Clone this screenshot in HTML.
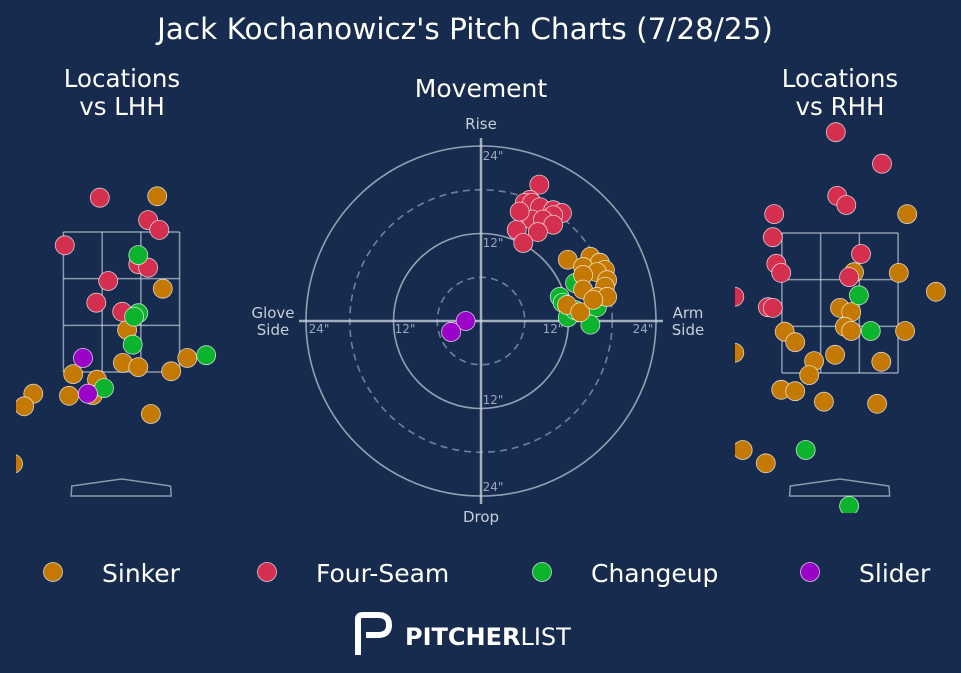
<!DOCTYPE html>
<html><head><meta charset="utf-8"><style>
html,body{margin:0;padding:0;background:#162b4d;}
svg{display:block;font-family:"DejaVu Sans","Liberation Sans",sans-serif;}
</style></head><body>
<svg id="c" width="961" height="673" viewBox="0 0 961 673">
<rect width="961" height="673" fill="#162b4d"/>
<defs>
<clipPath id="clipL"><rect x="16" y="110" width="230" height="410"/></clipPath>
<clipPath id="clipR"><rect x="735" y="110" width="226" height="403"/></clipPath>
</defs>
<text x="465" y="39" font-size="29.5" fill="#fff" text-anchor="middle">Jack Kochanowicz's Pitch Charts (7/28/25)</text>
<text x="122" y="87" font-size="24.5" fill="#fff" text-anchor="middle"><tspan x="122">Locations</tspan><tspan x="122" dy="28">vs LHH</tspan></text>
<text x="481" y="97" font-size="25" fill="#fff" text-anchor="middle">Movement</text>
<text x="840" y="87" font-size="24.5" fill="#fff" text-anchor="middle"><tspan x="840">Locations</tspan><tspan x="840" dy="28">vs RHH</tspan></text>
<g id="gL"></g>
<g id="gM"></g>
<g id="gR"></g>
<g id="legend"></g>
<g>
<path d="M358 655 V619 Q358 615 363 615 H378 Q389 615 389 625 Q389 635 378 635 H366" fill="none" stroke="#fff" stroke-width="6"/>
<text x="405" y="645" font-size="24" fill="#fff" font-weight="bold">PITCHER<tspan font-weight="normal">LIST</tspan></text>
</g>
</svg>
<script>
const pitchTypes=["Sinker","Four-Seam","Changeup","Slider"];
const colors={"Sinker":"#c47a02","Four-Seam":"#d42f4e","Changeup":"#0bb42c","Slider":"#9b03c8"};
// Locations vs LHH (plate_x ft, plate_z ft)
const lhhSinkerX=[0.51,0.59,0.08,0.02,0.24,-0.69,-0.35,-0.75,-0.41,-1.26,-1.39,0.71,0.94,0.42,-1.55];
const lhhSinkerZ=[4.01,2.69,2.10,1.63,1.57,1.47,1.39,1.16,1.17,1.19,1.01,1.51,1.70,0.90,0.19];
const lhhFourX=[-0.31,0.38,0.54,-0.81,0.24,0.38,-0.19,-0.36,0.01];
const lhhFourZ=[3.99,3.67,3.53,3.31,3.04,2.99,2.80,2.49,2.36];
const lhhChangeX=[0.24,0.24,0.18,0.16,1.21,-0.25];
const lhhChangeZ=[3.17,2.34,2.29,1.89,1.74,1.27];
const lhhSliderX=[-0.55,-0.48];
const lhhSliderZ=[1.70,1.19];
// Locations vs RHH
const rhhSinkerX=[0.96,0.20,0.84,1.37,0.00,0.16,0.07,0.16,0.93,-0.79,-0.64,-1.51,-0.37,-0.07,0.59,-0.44,-0.84,-0.64,-0.23,0.53,-1.39,-1.06];
const rhhSinkerZ=[3.77,2.94,2.93,2.66,2.43,2.37,2.16,2.10,2.10,2.09,1.94,1.79,1.67,1.76,1.66,1.47,1.26,1.24,1.09,1.06,0.40,0.21];
const rhhFourX=[-0.06,0.60,-0.04,0.09,-0.94,-0.96,0.30,-0.91,-0.84,0.13,-1.51,-1.03,-0.96];
const rhhFourZ=[4.94,4.49,4.03,3.90,3.77,3.44,3.20,3.06,2.93,2.87,2.59,2.44,2.43];
const rhhChangeX=[0.27,0.44,-0.49,0.13];
const rhhChangeZ=[2.61,2.10,0.40,-0.40];
const rhhSliderX=[];
const rhhSliderZ=[];
// Movement (horizontal break in, induced vertical break in)
const mvSinkerH=[11.9,15.0,16.3,17.0,14.0,15.9,14.0,17.3,17.0,14.0,15.9,17.3,11.8,13.6,15.4];
const mvSinkerV=[8.4,8.8,8.0,7.0,7.4,6.7,6.3,5.6,4.7,4.3,3.3,3.3,2.2,1.2,2.9];
const mvFourH=[8.0,6.7,6.0,7.0,8.1,9.9,11.1,9.9,7.0,8.5,9.9,4.9,7.8,5.8,5.3];
const mvFourV=[18.7,16.6,16.2,16.2,15.6,15.2,14.8,14.5,13.9,13.9,13.2,12.5,12.2,10.7,15.0];
const mvChangeH=[10.8,12.9,11.2,11.9,12.9,15.9,15.0];
const mvChangeV=[3.3,5.2,2.5,0.5,1.5,1.9,-0.5];
const mvSliderH=[-2.1,-4.1];
const mvSliderV=[0,-1.5];

const NS="http://www.w3.org/2000/svg";
function mk(tag,attrs,parent){const e=document.createElementNS(NS,tag);for(const k in attrs)e.setAttribute(k,attrs[k]);parent.appendChild(e);return e;}
const GRID="rgba(220,225,235,0.6)";
function locPanel(g,cx,yBot,clip,sets,side){
  const sx=v=>cx+v*70, sy=v=>yBot-(v-1.5)*70;
  const zone=mk('g',{},g);
  
  
  for(let i=0;i<4;i++){const x=sx(-0.83+i*1.66/3);mk('line',{x1:x,x2:x,y1:sy(3.5),y2:sy(1.5),stroke:GRID,'stroke-width':1.5},zone);}
  for(let i=0;i<4;i++){const y=sy(1.5+i*2/3);mk('line',{x1:sx(-0.83),x2:sx(0.83),y1:y,y2:y,stroke:GRID,'stroke-width':1.5},zone);}
  const plate=mk('polygon',{points:[[sx(-0.71),486],[cx,479],[sx(0.7),486],[sx(0.71),496],[sx(-0.72),496]].map(p=>p.join(',')).join(' '),fill:'none',stroke:GRID,'stroke-width':1.5},g);
  
  
  const pts=mk('g',{'clip-path':'url(#'+clip+')'},g);
  sets.forEach(([type,xs,zs])=>{xs.forEach((v,i)=>{
    const c=mk('circle',{cx:sx(v),cy:sy(zs[i]),r:9.5,fill:colors[type],stroke:'rgba(255,255,255,0.75)','stroke-width':0.8},pts);
    
    
  });});
}
locPanel(document.getElementById('gL'),121.5,372,'clipL',[["Sinker",lhhSinkerX,lhhSinkerZ],["Four-Seam",lhhFourX,lhhFourZ],["Changeup",lhhChangeX,lhhChangeZ],["Slider",lhhSliderX,lhhSliderZ]],'lhh');
locPanel(document.getElementById('gR'),840,373,'clipR',[["Sinker",rhhSinkerX,rhhSinkerZ],["Four-Seam",rhhFourX,rhhFourZ],["Changeup",rhhChangeX,rhhChangeZ],["Slider",rhhSliderX,rhhSliderZ]],'rhh');

// movement
(function(){
  const g=document.getElementById('gM');const cx=481,cy=321,k=175/24;
  const mx=v=>cx+v*k, my=v=>cy-v*k;
  [[24,false],[12,false],[18,true],[6,true]].forEach(([r,d])=>{
    const a={cx:cx,cy:cy,r:r*k,fill:'none',stroke:d?'rgba(150,165,190,0.7)':'rgba(190,200,215,0.75)','stroke-width':1.6};
    if(d)a['stroke-dasharray']='7,5';
    const c=mk('circle',a,g);
    
    
  });
  mk('line',{x1:299,x2:663,y1:cy,y2:cy,stroke:'rgba(200,208,220,0.8)','stroke-width':2.5},g);
  mk('line',{x1:cx,x2:cx,y1:138,y2:504,stroke:'rgba(200,208,220,0.8)','stroke-width':2.5},g);
  const lab=(t,x,y,s,n)=>{const e=mk('text',{x:x,y:y,'font-size':s,fill:'#c8ceda','text-anchor':'middle'},g);e.textContent=t;return e;};
  lab('Rise',481,129,15,'rise-label');lab('Drop',481,522,15,'drop-label');
  lab('Glove',273,318,15,'glove-side-label');lab('Side',273,335,15,'glove-side-label-2');
  lab('Arm',688,318,15,'arm-side-label');lab('Side',688,335,15,'arm-side-label-2');
  const tick=(t,x,y,n)=>{const e=mk('text',{x:x,y:y,'font-size':12,fill:'#9aa6bc','text-anchor':'middle'},g);e.textContent=t;};
  tick('24"',493,160,'tick-up-24');tick('12"',493,247,'tick-up-12');tick('12"',493,404,'tick-down-12');tick('24"',493,491,'tick-down-24');
  tick('24"',319,333,'tick-left-24');tick('12"',405,333,'tick-left-12');tick('12"',553,333,'tick-right-12');tick('24"',643,333,'tick-right-24');
  [["Four-Seam",mvFourH,mvFourV],["Changeup",mvChangeH,mvChangeV],["Sinker",mvSinkerH,mvSinkerV],["Slider",mvSliderH,mvSliderV]].forEach(([type,hs,vs])=>{
    hs.forEach((h,i)=>{const c=mk('circle',{cx:mx(h),cy:my(vs[i]),r:9.5,fill:colors[type],stroke:'rgba(255,255,255,0.75)','stroke-width':0.8},g);
      
      });
  });
})();

// legend
(function(){
  const g=document.getElementById('legend');const xs=[53,267,542,810];
  pitchTypes.forEach((t,i)=>{
    const c=mk('circle',{cx:xs[i],cy:572,r:9.5,fill:colors[t],stroke:'rgba(255,255,255,0.75)','stroke-width':0.8},g);
    
    
    const e=mk('text',{x:xs[i]+49,y:582,'font-size':25,fill:'#fff'},g);e.textContent=t;
    
    
  });
})();
</script>
</body></html>
